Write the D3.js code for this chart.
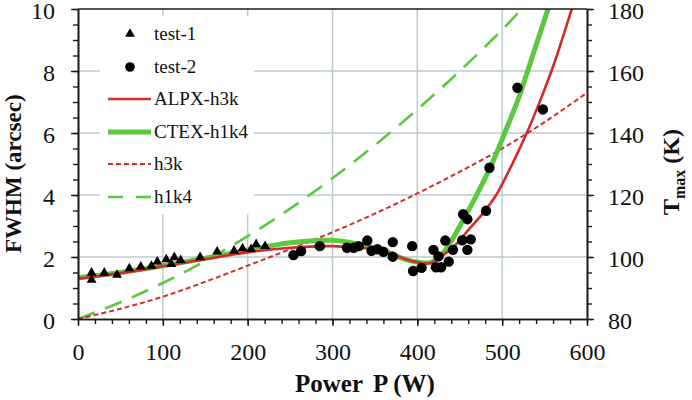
<!DOCTYPE html>
<html>
<head>
<meta charset="utf-8">
<script src="https://cdn.jsdelivr.net/npm/d3@7"></script>
<style>
  html, body { margin: 0; padding: 0; background: #fff; }
  svg { display: block; font-family: "Liberation Serif", "Times New Roman", serif; }
</style>
</head>
<body>
<svg id="chart" width="692" height="400"></svg>
<script>
// ---------- data ----------
const test1X = [16, 16, 31, 46, 60.5, 74, 86.5, 93.5, 104, 110, 113.5, 121, 144, 164, 184, 194, 204, 210, 220.5];
const test1Y = [1.49, 1.26, 1.49, 1.42, 1.63, 1.69, 1.71, 1.85, 1.92, 1.77, 1.99, 1.90, 1.99, 2.17, 2.20, 2.28, 2.25, 2.41, 2.35];

const test2X = [254, 263, 285, 317, 325, 331, 341, 346, 353, 360, 371, 371, 394, 395, 405, 419, 422, 428, 425, 433, 437, 442, 454, 459, 453, 463, 459, 481, 485, 518, 548];
const test2Y = [2.06, 2.19, 2.35, 2.30, 2.30, 2.35, 2.53, 2.20, 2.25, 2.17, 2.48, 2.01, 2.35, 1.55, 1.65, 2.23, 1.67, 1.67, 2.02, 2.53, 1.85, 2.23, 3.38, 3.22, 2.54, 2.57, 2.23, 3.49, 4.88, 7.46, 6.76];

const alpxX = [0, 50, 100, 150, 200, 250, 300, 330, 350, 375, 395, 415, 430, 446, 460, 477, 493, 511, 529, 545, 562, 582, 590];
const alpxY = [1.3, 1.48, 1.7, 1.93, 2.15, 2.3, 2.35, 2.3, 2.24, 2.03, 1.86, 1.8, 2.05, 2.42, 2.87, 3.4, 4.0, 4.95, 6.0, 7.06, 8.3, 10.0, 10.7];

const ctexX = [0, 50, 100, 150, 200, 250, 300, 320, 345, 365, 380, 395, 415, 428, 442, 454, 468, 487, 503, 519, 536, 554, 562];
const ctexY = [1.33, 1.5, 1.72, 1.96, 2.22, 2.46, 2.54, 2.47, 2.3, 2.16, 1.98, 1.86, 1.82, 2.05, 2.6, 3.2, 3.9, 4.95, 6.0, 7.1, 8.5, 10.0, 10.7];

const h3kX = [0, 50, 100, 150, 200, 250, 300, 350, 400, 450, 500, 550, 600];
const h3kY = [0, 0.33, 0.72, 1.2, 1.72, 2.25, 2.8, 3.4, 4.05, 4.75, 5.5, 6.35, 7.3];

const h1k4X = [0, 50, 100, 150, 200, 250, 300, 350, 400, 450, 500, 530];
const h1k4Y = [0, 0.54, 1.16, 1.87, 2.67, 3.56, 4.54, 5.61, 6.76, 8.0, 9.33, 10.2];

const xTicks = [0, 100, 200, 300, 400, 500, 600];
const yTicks = [0, 2, 4, 6, 8, 10];
const yRTicks = [80, 100, 120, 140, 160, 180];

const legendNames = ["test-1", "test-2", "ALPX-h3k", "CTEX-h1k4", "h3k", "h1k4"];

// ---------- layout ----------
const RED = "#d42a2a", GREEN = "#5cc840", GRID = "#bccbce", AX = "#1a1a1a";
const FONT = "'Liberation Serif', 'Times New Roman', serif";
const L = 78, R = 587, T = 9, B = 319;
const svg = d3.select("#chart");
const x = d3.scaleLinear().domain([0, 600]).range([L, R]);
const y = d3.scaleLinear().domain([0, 10]).range([B, T]);
const yR = d3.scaleLinear().domain([80, 180]).range([B, T]);

svg.append("defs").append("clipPath").attr("id", "clip")
  .append("rect").attr("x", L).attr("y", T).attr("width", R - L).attr("height", B - T);

// gridlines
const grid = svg.append("g").attr("stroke", GRID).attr("stroke-width", 1.5);
xTicks.slice(1, -1).forEach(v => grid.append("line")
  .attr("x1", x(v)).attr("x2", x(v)).attr("y1", T).attr("y2", B));
yTicks.slice(1, -1).forEach(v => grid.append("line")
  .attr("x1", L).attr("x2", R).attr("y1", y(v)).attr("y2", y(v)));

// legend background (hides grid behind legend)
svg.append("rect").attr("x", 100).attr("y", 16).attr("width", 154).attr("height", 198).attr("fill", "#fff");

// curves
const plot = svg.append("g").attr("clip-path", "url(#clip)");
function line(xs, ys) {
  return d3.line().x(d => x(d[0])).y(d => y(d[1])).curve(d3.curveCatmullRom.alpha(0.5))(xs.map((v, i) => [v, ys[i]]));
}
plot.append("path").attr("d", line(h1k4X, h1k4Y)).attr("fill", "none")
  .attr("stroke", GREEN).attr("stroke-width", 2.6).attr("stroke-dasharray", "18,11");
plot.append("path").attr("d", line(h3kX, h3kY)).attr("fill", "none")
  .attr("stroke", RED).attr("stroke-width", 2).attr("stroke-dasharray", "5,3");
plot.append("path").attr("d", line(ctexX, ctexY)).attr("fill", "none")
  .attr("stroke", GREEN).attr("stroke-width", 5).attr("stroke-linejoin", "round");
plot.append("path").attr("d", line(alpxX, alpxY)).attr("fill", "none")
  .attr("stroke", RED).attr("stroke-width", 2.6);

// markers
const tri = d3.symbol().type(d3.symbolTriangle).size(42);
plot.selectAll(".t1").data(test1X.map((v, i) => [v, test1Y[i]])).join("path")
  .attr("d", tri).attr("transform", d => `translate(${x(d[0])},${y(d[1])})`).attr("fill", "#000");
plot.selectAll(".t2").data(test2X.map((v, i) => [v, test2Y[i]])).join("circle")
  .attr("cx", d => x(d[0])).attr("cy", d => y(d[1])).attr("r", 5.2).attr("fill", "#000");

// axes
function styleAxis(g) {
  g.selectAll(".domain").attr("stroke", AX).attr("stroke-width", 1.6);
  g.selectAll(".tick line").attr("stroke", AX).attr("stroke-width", 1.4);
  g.selectAll("text").attr("font-size", 24).attr("fill", "#111").attr("font-family", FONT);
}
const minorX = d3.range(0, 601, 20);
const minorY = d3.range(0, 10.01, 0.5);
const minorYR = d3.range(80, 180.01, 5);

svg.append("g").attr("transform", `translate(0,${B})`)
  .call(d3.axisBottom(x).tickValues(minorX).tickSize(5).tickSizeOuter(0).tickFormat(""))
  .call(styleAxis);
svg.append("g").attr("transform", `translate(0,${B})`)
  .call(d3.axisBottom(x).tickValues(xTicks).tickSize(7).tickSizeOuter(0).tickFormat(d3.format("d")))
  .call(styleAxis)
  .call(g => g.selectAll("text").attr("y", 41).attr("dy", 0));

svg.append("g").attr("transform", `translate(${L},0)`)
  .call(d3.axisLeft(y).tickValues(minorY).tickSize(5).tickSizeOuter(0).tickFormat(""))
  .call(styleAxis);
svg.append("g").attr("transform", `translate(${L},0)`)
  .call(d3.axisLeft(y).tickValues(yTicks).tickSize(7).tickSizeOuter(0).tickFormat(d3.format("d")))
  .call(styleAxis)
  .call(g => g.selectAll("text").attr("x", -23).attr("dy", "0.4em"));

svg.append("g").attr("transform", `translate(${R},0)`)
  .call(d3.axisRight(yR).tickValues(minorYR).tickSize(5).tickSizeOuter(0).tickFormat(""))
  .call(styleAxis);
svg.append("g").attr("transform", `translate(${R},0)`)
  .call(d3.axisRight(yR).tickValues(yRTicks).tickSize(7).tickSizeOuter(0).tickFormat(d3.format("d")))
  .call(styleAxis)
  .call(g => g.selectAll("text").attr("x", 21).attr("dy", "0.4em"));

// top border
svg.append("line").attr("x1", L).attr("x2", R).attr("y1", T).attr("y2", T)
  .attr("stroke", AX).attr("stroke-width", 1.6);

// axis titles
svg.append("text").attr("x", 295).attr("y", 392).attr("font-size", 25).attr("font-weight", "bold")
  .attr("font-family", FONT).attr("fill", "#111").text("Power");
svg.append("text").attr("x", 373).attr("y", 392).attr("font-size", 25).attr("font-weight", "bold")
  .attr("font-family", FONT).attr("fill", "#111").text("P (W)");
svg.append("text").attr("transform", "translate(21,253) rotate(-90)").attr("font-family", FONT)
  .attr("font-size", 23).attr("font-weight", "bold").attr("fill", "#111").text("FWHM (arcsec)");
const rt = svg.append("text").attr("transform", "translate(679,215) rotate(-90)").attr("font-family", FONT)
  .attr("font-size", 24).attr("font-weight", "bold").attr("fill", "#111");
rt.append("tspan").text("T");
rt.append("tspan").attr("font-size", 16).attr("dy", 6).text("max");
rt.append("tspan").attr("dy", -6).text("\u00a0(K)");

// legend
const lg = svg.append("g");
const rowY = [34, 67, 99, 132, 164, 197];
const lineStyles = {
  "ALPX-h3k": { c: RED, w: 2.6, d: null },
  "CTEX-h1k4": { c: GREEN, w: 5, d: null },
  "h3k": { c: RED, w: 2, d: "5,3" },
  "h1k4": { c: GREEN, w: 2.6, d: "15,13" }
};
legendNames.forEach((name, i) => {
  const ry = rowY[i];
  if (i === 0) lg.append("path").attr("d", tri()).attr("transform", `translate(130,${ry})`).attr("fill", "#000");
  else if (i === 1) lg.append("circle").attr("cx", 130).attr("cy", ry).attr("r", 4.8).attr("fill", "#000");
  else {
    const st = lineStyles[name];
    lg.append("line").attr("x1", 108).attr("x2", 151).attr("y1", ry).attr("y2", ry)
      .attr("stroke", st.c).attr("stroke-width", st.w).attr("stroke-dasharray", st.d);
  }
  lg.append("text").attr("x", 154).attr("y", ry).attr("dy", "0.33em").attr("font-family", FONT)
    .attr("font-size", 19).attr("fill", "#111").text(name);
});
</script>
</body>
</html>
